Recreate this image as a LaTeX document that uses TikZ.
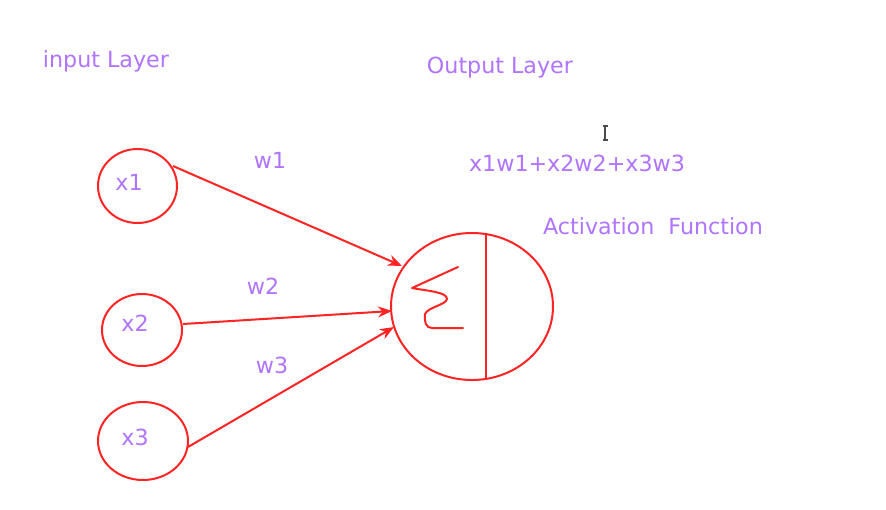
\documentclass[tikz,border=0pt]{standalone}
\usepackage{fontspec}
\setmainfont{DejaVu Sans}
\usetikzlibrary{arrows.meta}
\definecolor{lbl}{HTML}{B074FF}
\definecolor{ink}{HTML}{FF2424}
\tikzset{
  txt/.style={text=lbl, font=\fontsize{22.2}{26}\selectfont, inner sep=0pt},
  redline/.style={draw=ink, line width=2pt},
  conn/.style={draw=ink, line width=2pt, -{Stealth[length=14pt,width=11pt,inset=4.5pt]}},
}
\begin{document}
\begin{tikzpicture}[x=1pt,y=-1pt]
\useasboundingbox[fill=white] (0,0) rectangle (886,509);
% input circles
\draw[redline] (137.5,186) ellipse [x radius=39.5, y radius=37];
\draw[redline] (142,330) ellipse [x radius=40, y radius=36];
\draw[redline] (143,441) ellipse [x radius=45, y radius=39];
\coordinate (x1e) at (173,166);
\coordinate (x2e) at (183,324);
\coordinate (x3e) at (188,447);
% output neuron
\draw[redline] (472,306.5) ellipse [x radius=81, y radius=73.5];
\coordinate (vt) at (486,233);
\coordinate (vb) at (486,379.5);
\draw[redline] (vt) -- (vb);
\coordinate (t1) at (402,266);
\coordinate (t2) at (392,311);
\coordinate (t3) at (394,327);
% sigma squiggle
\draw[redline, line join=round, line cap=round]
  (458,267) -- (412,288) .. controls (428,291) and (447,292) .. (447,299)
  .. controls (446,305) and (428,307) .. (425,314)
  .. controls (424,322) and (426,328) .. (432,328) -- (463,328);
% connectors
\draw[conn] (x1e) -- (t1);
\draw[conn] (x2e) -- (t2);
\draw[conn] (x3e) -- (t3);
% labels
\node[txt] (il) at (106,61) {input Layer};
\node[txt] (ol) at (500,68) {Output Layer};
\node[txt] (sum) at (577,163) {x1w1+x2w2+x3w3};
\node[txt] (af) at (653,226) {Activation\ \ Function};
\node[txt] (w1) at (270,160) {w1};
\node[txt] (w2) at (263,286) {w2};
\node[txt] (w3) at (272,365) {w3};
\node[txt] (lx1) at (129,182) {x1};
\node[txt] (lx2) at (135,323) {x2};
\node[txt] (lx3) at (135,437) {x3};
% text cursor
\draw[black!70, line width=1.6pt] (605,126) -- (605,140);
\draw[black!70, line width=1.2pt] (602.5,126) -- (607.5,126) (602.5,140) -- (607.5,140);
\end{tikzpicture}
\end{document}
